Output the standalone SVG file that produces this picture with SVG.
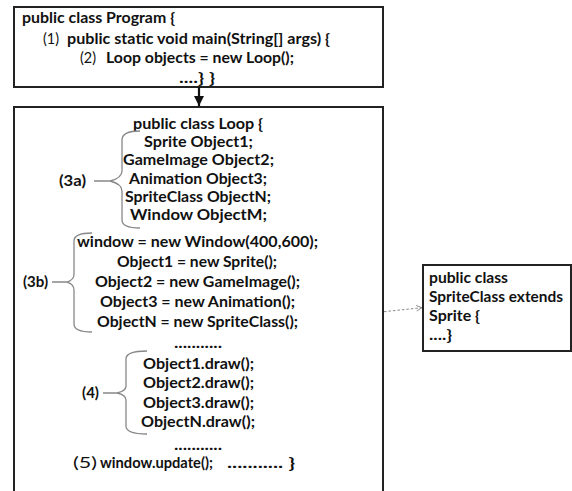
<svg xmlns="http://www.w3.org/2000/svg" width="572" height="491" viewBox="0 0 572 491">
<style>
text{font-family:Lato,"Liberation Sans",sans-serif;font-size:15px;font-weight:bold;fill:#111}
.n{font-weight:normal}
.box{fill:#fff;stroke:#222;stroke-width:2}
.brace{fill:none;stroke:#888;stroke-width:1.3}
</style>
<defs>
<marker id="solid" viewBox="0 0 10 10" refX="10" refY="5" markerWidth="10" markerHeight="10" markerUnits="userSpaceOnUse" orient="auto">
<path d="M0,0 L10,5 L0,10 Z" fill="#111"/>
</marker>
<marker id="open" viewBox="0 0 10 10" refX="9" refY="5" markerWidth="7" markerHeight="7" markerUnits="userSpaceOnUse" orient="auto">
<path d="M1,1 L9,5 L1,9" fill="none" stroke="#888" stroke-width="1.3"/>
</marker>
</defs>
<rect width="572" height="491" fill="#fff"/>
<g id="program">
<rect class="box" x="14" y="7" width="369" height="80"/>
<text x="22" y="23" textLength="153" lengthAdjust="spacingAndGlyphs">public class Program {</text>
<text class="n" x="43" y="44" textLength="16" lengthAdjust="spacingAndGlyphs">(1)</text>
<text x="67" y="44" textLength="263" lengthAdjust="spacingAndGlyphs">public static void main(String[] args) {</text>
<text class="n" x="80" y="63" textLength="16" lengthAdjust="spacingAndGlyphs">(2)</text>
<text x="106" y="63" textLength="188" lengthAdjust="spacingAndGlyphs">Loop objects = new Loop();</text>
<text x="179" y="83" textLength="36" lengthAdjust="spacingAndGlyphs">....}  }</text>
</g>
<g id="loop">
<path class="box" d="M14,492 V107 H383 V492"/>
<text x="133" y="129" textLength="130" lengthAdjust="spacingAndGlyphs">public class Loop {</text>
<text x="144" y="147" textLength="109" lengthAdjust="spacingAndGlyphs">Sprite Object1;</text>
<text x="123" y="165" textLength="151" lengthAdjust="spacingAndGlyphs">GameImage Object2;</text>
<text x="129" y="183.5" textLength="138" lengthAdjust="spacingAndGlyphs">Animation Object3;</text>
<text x="125" y="201.5" textLength="146" lengthAdjust="spacingAndGlyphs">SpriteClass ObjectN;</text>
<text x="130" y="220" textLength="137" lengthAdjust="spacingAndGlyphs">Window ObjectM;</text>
<text x="77" y="246.7" textLength="241" lengthAdjust="spacingAndGlyphs">window = new Window(400,600);</text>
<text x="117" y="266.7" textLength="160" lengthAdjust="spacingAndGlyphs">Object1 = new Sprite();</text>
<text x="95" y="286.7" textLength="205" lengthAdjust="spacingAndGlyphs">Object2 = new GameImage();</text>
<text x="100" y="306.7" textLength="195" lengthAdjust="spacingAndGlyphs">Object3 = new Animation();</text>
<text x="97" y="326.7" textLength="201" lengthAdjust="spacingAndGlyphs">ObjectN = new SpriteClass();</text>
<text x="174" y="347.5" textLength="48" lengthAdjust="spacingAndGlyphs">...........</text>
<text x="143" y="369" textLength="111" lengthAdjust="spacingAndGlyphs">Object1.draw();</text>
<text x="143" y="388" textLength="111" lengthAdjust="spacingAndGlyphs">Object2.draw();</text>
<text x="143" y="408" textLength="111" lengthAdjust="spacingAndGlyphs">Object3.draw();</text>
<text x="141" y="427.4" textLength="114" lengthAdjust="spacingAndGlyphs">ObjectN.draw();</text>
<text x="174" y="450" textLength="48" lengthAdjust="spacingAndGlyphs">...........</text>
<text class="n" x="73" y="468" textLength="24" lengthAdjust="spacingAndGlyphs">(5)</text>
<text x="100" y="468" textLength="113" lengthAdjust="spacingAndGlyphs">window.update();</text>
<text x="227" y="468" textLength="68" lengthAdjust="spacingAndGlyphs">........... }</text>
<text x="59" y="185.5" textLength="27" lengthAdjust="spacingAndGlyphs">(3a)</text>
<text x="23" y="286.5" textLength="25" lengthAdjust="spacingAndGlyphs">(3b)</text>
<text x="82" y="397.5" textLength="17" lengthAdjust="spacingAndGlyphs">(4)</text>
<path class="brace" d="M94,181 H110 M140,131 Q122,131 122,140 V171 Q122,178 110,181 Q122,184 122,191 V220 Q122,228 140,228"/>
<path class="brace" d="M52,282 H67 M92,233 Q74,233 74,241 V274 Q74,280 67,282 Q74,284 74,290 V324 Q74,332 92,332"/>
<path class="brace" d="M103,393 H117 M147,351 Q126,351 126,359 V386 Q126,391 117,393 Q126,395 126,400 V426 Q126,434 147,434"/>
</g>
<g id="spriteclass">
<rect class="box" x="423" y="265" width="148" height="86"/>
<text x="429" y="283.4" textLength="79" lengthAdjust="spacingAndGlyphs">public class</text>
<text x="429" y="302.3" textLength="134" lengthAdjust="spacingAndGlyphs">SpriteClass extends</text>
<text x="429" y="321.2" textLength="51" lengthAdjust="spacingAndGlyphs">Sprite {</text>
<text x="429" y="340" textLength="23" lengthAdjust="spacingAndGlyphs">....}</text>
</g>
<g id="connectors">
<line x1="199" y1="87" x2="199" y2="106" stroke="#111" stroke-width="2.2" marker-end="url(#solid)"/>
<line x1="384" y1="311.7" x2="422" y2="307.7" stroke="#888" stroke-width="1" stroke-dasharray="2.5,2" marker-end="url(#open)"/>
</g>
</svg>
